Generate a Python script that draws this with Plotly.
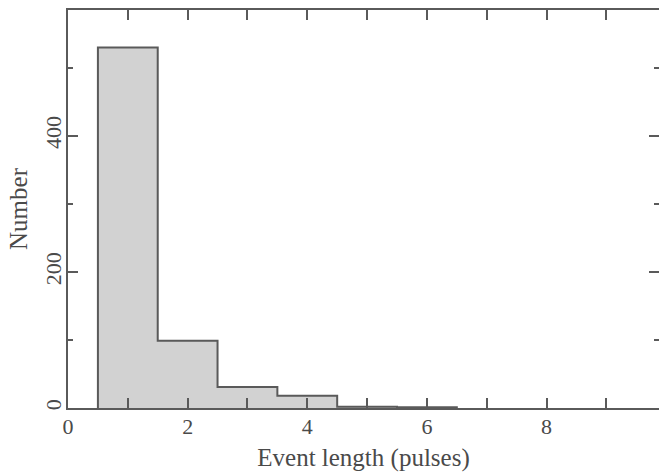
import plotly.graph_objects as go

# Histogram data (event length in pulses)
bin_left_edges = [0.5, 1.5, 2.5, 3.5, 4.5, 5.5]
bin_width = 1.0
counts = [530, 99, 31, 18, 2, 1]

x_tick_vals = [0, 2, 4, 6, 8]
y_tick_vals = [0, 200, 400]

# step outline built from the bin edges and counts
xs = [bin_left_edges[0]] + bin_left_edges + [bin_left_edges[-1] + bin_width]
ys = [0] + counts + [0]

FONT = "Liberation Serif"
TXT = "#4a4a4a"
LINE = "#5a5a5a"

fig = go.Figure()
fig.add_trace(go.Scatter(
    x=xs, y=ys, mode="lines", line=dict(shape="hv", color=LINE, width=2),
    fill="tozeroy", fillcolor="#d2d2d2", showlegend=False, hoverinfo="skip"))
# invisible trace to show right-side ticks
fig.add_trace(go.Scatter(x=[0], y=[0], yaxis="y2", mode="markers",
                         marker=dict(opacity=0), showlegend=False, hoverinfo="skip"))

fig.update_layout(
    width=659, height=476,
    margin=dict(l=68, r=0, t=10, b=68),
    paper_bgcolor="white", plot_bgcolor="white",
    font=dict(family=FONT, size=22, color=TXT),
    xaxis=dict(
        range=[0, 9.88], showgrid=False, zeroline=False,
        showline=True, linecolor=LINE, linewidth=2, mirror="allticks",
        tickmode="array", tickvals=x_tick_vals, ticktext=[str(v) for v in x_tick_vals],
        ticks="inside", ticklen=10, tickwidth=1.5, tickcolor=LINE,
        minor=dict(dtick=1, tick0=0, ticks="inside", ticklen=5, tickwidth=1.5, tickcolor=LINE),
        tickfont=dict(family=FONT, size=22, color=TXT),
        ticklabelstandoff=-2,
        title=dict(text="Event length (pulses)", font=dict(family=FONT, size=25, color=TXT), standoff=10),
    ),
    yaxis=dict(
        range=[0, 585], showgrid=False, zeroline=False,
        showline=True, linecolor=LINE, linewidth=2,
        tickmode="array", tickvals=y_tick_vals, ticktext=[str(v) for v in y_tick_vals],
        ticks="inside", ticklen=10, tickwidth=1.5, tickcolor=LINE,
        minor=dict(dtick=100, tick0=0, ticks="inside", ticklen=5, tickwidth=1.5, tickcolor=LINE),
        tickangle=-90,
        tickfont=dict(family=FONT, size=22, color=TXT),
        ticklabelstandoff=-4,
        title=dict(text="Number", font=dict(family=FONT, size=25, color=TXT), standoff=6),
    ),
    yaxis2=dict(
        range=[0, 585], overlaying="y", side="right", anchor="x",
        showgrid=False, zeroline=False, showline=False, showticklabels=False,
        tickmode="array", tickvals=y_tick_vals,
        ticks="inside", ticklen=10, tickwidth=1.5, tickcolor=LINE,
        minor=dict(dtick=100, tick0=0, ticks="inside", ticklen=5, tickwidth=1.5, tickcolor=LINE),
    ),
)

fig.write_html("out.html")
